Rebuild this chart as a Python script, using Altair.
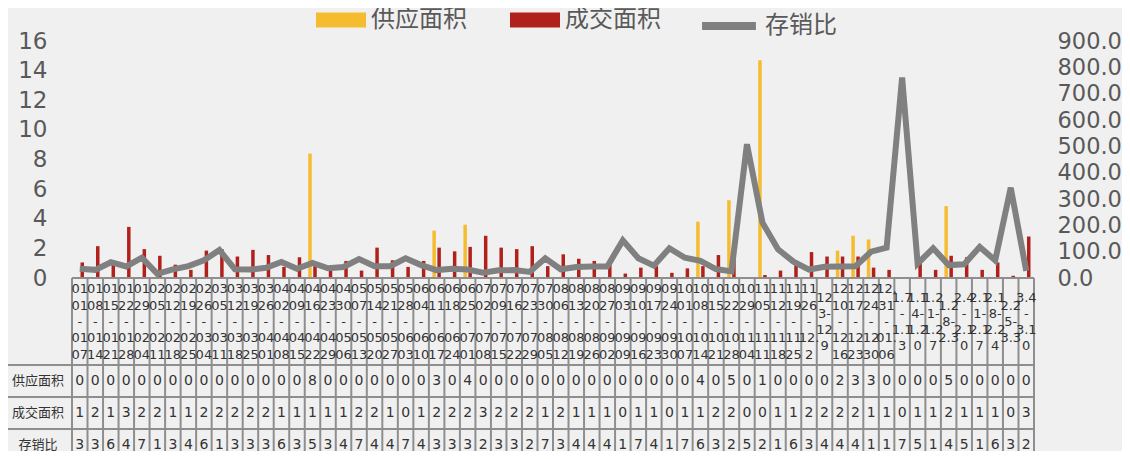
import altair as alt
import pandas as pd

labels = [
    "01|01|-|01|07", "01|08|-|01|14", "01|15|-|01|21", "01|22|-|01|28", "01|29|-|02|04",
    "02|05|-|02|11", "02|12|-|02|18", "02|19|-|02|25", "02|26|-|03|04", "03|05|-|03|11",
    "03|12|-|03|18", "03|19|-|03|25", "03|26|-|04|01", "04|02|-|04|08", "04|09|-|04|15",
    "04|16|-|04|22", "04|23|-|04|29", "04|30|-|05|06", "05|07|-|05|13", "05|14|-|05|20",
    "05|21|-|05|27", "05|28|-|06|03", "06|04|-|06|10", "06|11|-|06|17", "06|18|-|06|24",
    "06|25|-|07|01", "07|02|-|07|08", "07|09|-|07|15", "07|16|-|07|22", "07|23|-|07|29",
    "07|30|-|08|05", "08|06|-|08|12", "08|13|-|08|19", "08|20|-|08|26", "08|27|-|09|02",
    "09|03|-|09|09", "09|10|-|09|16", "09|17|-|09|23", "09|24|-|09|30", "10|01|-|10|07",
    "10|08|-|10|14", "10|15|-|10|21", "10|22|-|10|28", "10|29|-|11|04", "11|05|-|11|11",
    "11|12|-|11|18", "11|19|-|11|25", "11|26|-|12.|2", "12|3-|12|9", "12|10|-|12|16",
    "12|17|-|12|23", "12|24|-|12|30", "12.|31|-|01.|06", "1.7|-|1.1|3", "1.1|4-|1.2|0",
    "1.2|1-|1.2|7", "1.2|8-|2.3", "2.4|-|2.1|0", "2.1|1-|2.1|7", "2.1|8-|2.2|4",
    "2.2|5-|3.3", "3.4|-|3.1|0",
]

supply = [0, 0, 0, 0, 0, 0, 0, 0, 0, 0, 0, 0, 0, 0, 0, 8.4, 0, 0, 0, 0,
          0, 0, 0, 3.2, 0, 3.6, 0, 0, 0, 0, 0, 0, 0, 0, 0, 0, 0, 0, 0, 0,
          3.8, 0, 5.25, 0, 14.7, 0, 0, 0, 0, 1.85, 2.85, 2.6, 0, 0, 0, 0, 4.85, 0, 0, 0,
          0, 0]

deal = [1.05, 2.15, 0.95, 3.45, 1.95, 1.5, 0.9, 0.55, 1.85, 1.95, 1.45, 1.9, 1.55, 0.75, 1.4,
        0.8, 0.75, 1.15, 0.5, 2.05, 1.2, 0.75, 1.15, 2.05, 1.8, 2.1, 2.85, 2.05, 1.95, 2.15,
        0.8, 1.6, 1.3, 1.15, 0.9, 0.3, 0.7, 0.8, 0.35, 0.65, 0.8, 1.55, 1.55, 0.05, 0.2,
        0.5, 1.05, 1.75, 1.45, 1.45, 1.45, 0.7, 0.55, 0.05, 1.4, 0.55, 1.5, 1.4, 0.55, 1.05,
        0.15, 2.8]

ratio = [35, 31, 60, 44, 77, 16, 33, 45, 67, 106, 33, 32, 39, 61, 35, 57, 37, 42, 72, 45,
         45, 75, 49, 30, 35, 32, 20, 29, 30, 23, 75, 33, 42, 44, 44, 143, 75, 47, 113, 77,
         65, 34, 25, 508, 210, 109, 62, 32, 43, 44, 45, 100, 115, 761, 55, 113, 49, 52, 118, 67,
         343, 27]

supply_txt = ["0", "0", "0", "0", "0", "0", "0", "0", "0", "0", "0", "0", "0", "0", "0", "8", "0", "0", "0", "0",
              "0", "0", "0", "3", "0", "4", "0", "0", "0", "0", "0", "0", "0", "0", "0", "0", "0", "0", "0", "0",
              "4", "0", "5", "0", "1", "0", "0", "0", "0", "2", "3", "3", "0", "0", "0", "0", "5", "0", "0", "0",
              "0", "0"]
deal_txt = ["1", "2", "1", "3", "2", "2", "1", "1", "2", "2", "2", "2", "2", "1", "1", "1", "1", "1", "2", "2",
            "1", "0", "1", "2", "2", "2", "3", "2", "2", "2", "1", "2", "1", "1", "1", "0", "1", "1", "0", "1",
            "1", "2", "2", "0", "0", "1", "1", "2", "2", "2", "2", "1", "1", "0", "1", "1", "2", "1", "1", "1",
            "0", "3"]
ratio_txt = ["3", "3", "6", "4", "7", "1", "3", "4", "6", "1", "3", "3", "3", "6", "3", "5", "3", "4", "7", "4",
             "4", "7", "4", "3", "3", "3", "2", "3", "3", "2", "7", "3", "4", "4", "4", "1", "7", "4", "1", "7",
             "6", "3", "2", "5", "2", "1", "6", "3", "4", "4", "4", "1", "1", "7", "5", "1", "4", "5", "1", "6",
             "3", "2"]

row_heads = ["供应面积", "成交面积", "存销比"]
bar_names = ["供应面积", "成交面积"]
bar_colors = ["#F6BC2F", "#B1211C"]
line_name = "存销比"
line_color = "#808080"

W, H = 962, 237
GRID = "#8e8e8e"
TXT = "#333333"
LH = 16.3

df = pd.DataFrame({
    "idx": list(range(len(labels))),
    "lab": labels,
    "supply": supply,
    "deal": deal,
    "ratio": ratio,
    "s_t": supply_txt,
    "d_t": deal_txt,
    "r_t": ratio_txt,
})

xscale = alt.Scale(type="band", paddingInner=0, paddingOuter=0)
X = alt.X("idx:O", scale=xscale, axis=None)
Xedge = alt.X("idx:O", scale=xscale, axis=None, bandPosition=0)

bar_scale = alt.Scale(domain=bar_names, range=bar_colors)
bar_legend = alt.Legend(
    title=None, orient="none", direction="horizontal", legendX=244, legendY=-46,
    symbolType="M-1,-0.3H1V0.3H-1Z", symbolSize=2500, symbolStrokeWidth=0,
    labelFontSize=24, labelFont="Noto Sans CJK SC", labelColor="#595959",
    labelOffset=5, columnPadding=43,
)
line_scale = alt.Scale(domain=[line_name], range=[line_color])
line_legend = alt.Legend(
    title=None, orient="none", direction="horizontal", legendX=626, legendY=-46,
    symbolType="stroke", symbolSize=2900, symbolStrokeWidth=8,
    labelFontSize=24, labelFont="Noto Sans CJK SC", labelColor="#595959",
    labelOffset=5,
)

left_axis = alt.Axis(values=list(range(0, 17, 2)), format="d", labelFontSize=23,
                     labelFont="DejaVu Sans", labelColor="#595959", domain=False, ticks=False,
                     grid=False, labelPadding=25, title=None)
right_axis = alt.Axis(orient="right", values=list(range(0, 901, 100)), format=".1f",
                      labelFontSize=22.5, labelFont="DejaVu Sans", labelColor="#595959",
                      domain=False, ticks=False, grid=False, labelPadding=23, title=None)

base = alt.Chart(df)

bar_s = base.transform_calculate(series="'供应面积'").mark_bar(width=3.5, xOffset=-2.5).encode(
    x=X,
    y=alt.Y("supply:Q", scale=alt.Scale(domain=[0, 16]), axis=left_axis),
    color=alt.Color("series:N", scale=bar_scale, legend=bar_legend),
)
bar_d = base.transform_calculate(series="'成交面积'").mark_bar(width=3.5, xOffset=2.5).encode(
    x=X,
    y=alt.Y("deal:Q", scale=alt.Scale(domain=[0, 16]), axis=left_axis),
    color=alt.Color("series:N", scale=bar_scale, legend=bar_legend),
)
bars = alt.layer(bar_s, bar_d)

line = base.transform_calculate(lseries="'存销比'").mark_line(strokeWidth=6).encode(
    x=X,
    y=alt.Y("ratio:Q", scale=alt.Scale(domain=[0, 900]), axis=right_axis),
    stroke=alt.Stroke("lseries:N", scale=line_scale, legend=line_legend),
)

one = pd.DataFrame({"k": [0]})

vsep = base.mark_rule(color=GRID, strokeWidth=2).encode(
    x=Xedge, y=alt.value(H), y2=alt.value(H + 210))
right_edge = alt.Chart(one).mark_rule(color=GRID, strokeWidth=2).encode(
    x=alt.value(W), y=alt.value(H), y2=alt.value(H + 210))
left_edge = alt.Chart(one).mark_rule(color=GRID, strokeWidth=2).encode(
    x=alt.value(-67), y=alt.value(324), y2=alt.value(H + 210))
axis_line = alt.Chart(one).mark_rule(color=GRID, strokeWidth=2).encode(
    x=alt.value(0), x2=alt.value(W), y=alt.value(H))
hlines = [alt.Chart(one).mark_rule(color=GRID, strokeWidth=2).encode(
    x=alt.value(-67), x2=alt.value(W), y=alt.value(yy)) for yy in (324, 356, 388)]

# multi-line category labels, centred vertically in the label band
label_center = 281
xlabs = []
for n in (3, 4, 5):
    xlabs.append(
        base.transform_calculate(lines="split(datum.lab, '|')")
        .transform_calculate(nl="length(datum.lines)")
        .transform_filter(f"datum.nl == {n}")
        .mark_text(font="DejaVu Sans", fontSize=13, lineHeight=LH, baseline="middle", color=TXT)
        .encode(x=X, y=alt.value(label_center - (n - 1) * LH / 2), text="lines:N")
    )

row_y = [340, 372, 404]
cells = []
for fld, yy in zip(["s_t", "d_t", "r_t"], row_y):
    cells.append(base.mark_text(font="DejaVu Sans", fontSize=14, baseline="middle", color=TXT)
                 .encode(x=X, y=alt.value(yy), text=f"{fld}:N"))
heads = []
for name, yy in zip(row_heads, row_y):
    heads.append(alt.Chart(pd.DataFrame({"h": [name]})).mark_text(
        font="Noto Sans CJK SC", fontSize=13, baseline="middle", color=TXT
    ).encode(x=alt.value(-34), y=alt.value(yy), text="h:N"))

chart = alt.layer(
    bars, line, vsep, right_edge, left_edge, axis_line, *hlines, *xlabs, *cells, *heads
).resolve_scale(y="independent").properties(
    width=W, height=H,
    autosize=alt.AutoSizeParams(type="none"),
    padding={"left": 64, "top": 33, "right": 88, "bottom": 173},
).configure(background="#f0f0f0").configure_view(strokeWidth=0)

chart.save("out.html", embed_options={"renderer": "svg", "actions": False})
